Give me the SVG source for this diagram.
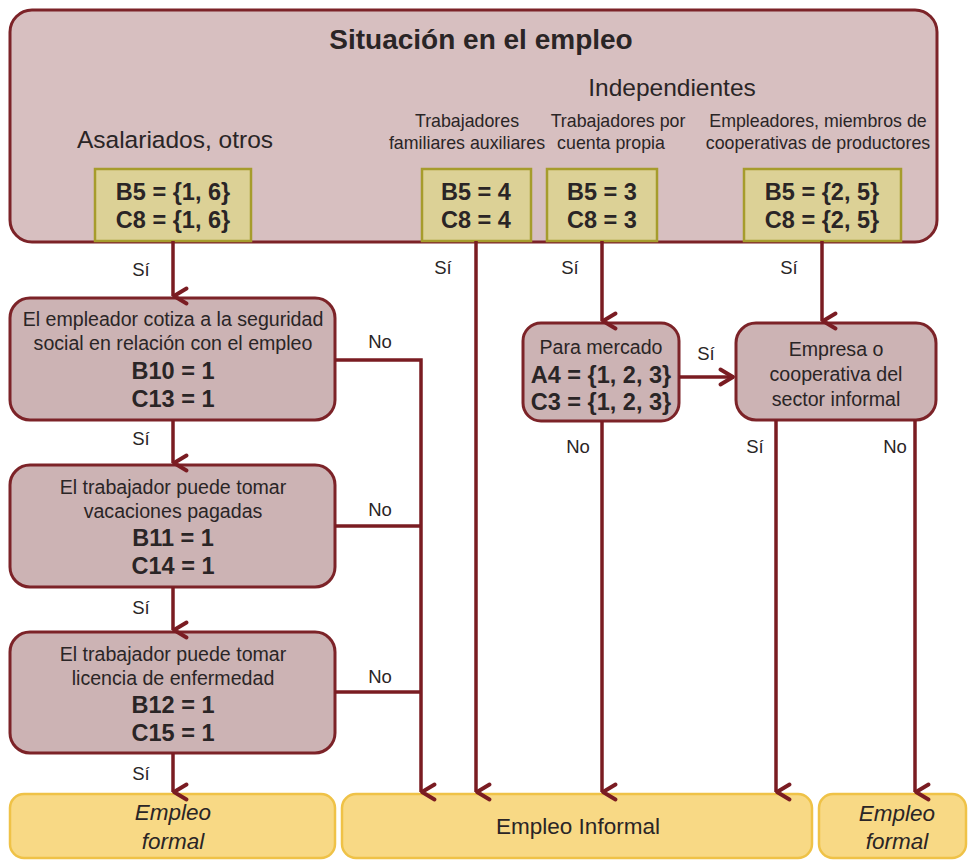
<svg xmlns="http://www.w3.org/2000/svg" width="968" height="862" viewBox="0 0 968 862">
<defs>
<style>
text{font-family:"Liberation Sans",Arial,sans-serif;fill:#2a2526;text-anchor:middle}
.title{font-size:28px;font-weight:bold}
.cat{font-size:24.5px}
.sub{font-size:17.8px}
.eq{font-size:23.5px;font-weight:bold}
.q{font-size:19.6px}
.lbl{font-size:18.5px}
.end{font-size:22.5px}
.it{font-style:italic}
.outer{fill:#d7bfc0;stroke:#7c2328;stroke-width:3}
.code{fill:#dcd196;stroke:#a69c2c;stroke-width:2.5}
.dec{fill:#ccb3b4;stroke:#7c2328;stroke-width:3}
.res{fill:#f8d985;stroke:#efc247;stroke-width:2.5}
.c{fill:none;stroke:#7a1c22;stroke-width:3.5}
</style>
<marker id="ah" viewBox="0 0 20 18" refX="10" refY="16.5" markerWidth="20" markerHeight="18" markerUnits="userSpaceOnUse" orient="auto">
<path d="M2.5,3 L10,15.5 L17.5,3" fill="none" stroke="#7a1c22" stroke-width="3.8" stroke-linecap="round" stroke-linejoin="round"/>
</marker>
<marker id="ahr" viewBox="0 0 18 20" refX="16.5" refY="10" markerWidth="18" markerHeight="20" markerUnits="userSpaceOnUse">
<path d="M3,2.5 L15.5,10 L3,17.5" fill="none" stroke="#7a1c22" stroke-width="3.8" stroke-linecap="round" stroke-linejoin="round"/>
</marker>
</defs>
<rect width="968" height="862" fill="#ffffff"/>

<g id="situacion">
<rect class="outer" x="10" y="10" width="927" height="232" rx="22"/>
<text class="title" x="481" y="49">Situación en el empleo</text>
<text class="cat" x="175" y="148">Asalariados, otros</text>
<text class="cat" x="672" y="96">Independientes</text>
<text class="sub" x="467" y="127">Trabajadores</text>
<text class="sub" x="467" y="149">familiares auxiliares</text>
<text class="sub" x="618" y="127">Trabajadores por</text>
<text class="sub" x="611" y="149">cuenta propia</text>
<text class="sub" x="818" y="127">Empleadores, miembros de</text>
<text class="sub" x="818" y="149">cooperativas de productores</text>
</g>

<g id="cod-asalariados">
<rect class="code" x="95" y="169" width="156" height="72"/>
<text class="eq" x="173" y="200">B5 = {1, 6}</text>
<text class="eq" x="173" y="228">C8 = {1, 6}</text>
</g>
<g id="cod-familiares">
<rect class="code" x="422" y="169" width="109" height="72"/>
<text class="eq" x="476" y="200">B5 = 4</text>
<text class="eq" x="476" y="228">C8 = 4</text>
</g>
<g id="cod-cuentapropia">
<rect class="code" x="547" y="169" width="110" height="72"/>
<text class="eq" x="602" y="200">B5 = 3</text>
<text class="eq" x="602" y="228">C8 = 3</text>
</g>
<g id="cod-empleadores">
<rect class="code" x="744" y="169" width="157" height="72"/>
<text class="eq" x="822" y="200">B5 = {2, 5}</text>
<text class="eq" x="822" y="228">C8 = {2, 5}</text>
</g>

<g id="seguridad-social">
<rect class="dec" x="10" y="298" width="325" height="122" rx="20"/>
<text class="q" x="173" y="326">El empleador cotiza a la seguridad</text>
<text class="q" x="173" y="350">social en relación con el empleo</text>
<text class="eq" x="173" y="379">B10 = 1</text>
<text class="eq" x="173" y="407">C13 = 1</text>
</g>
<g id="vacaciones">
<rect class="dec" x="10" y="465" width="325" height="122" rx="20"/>
<text class="q" x="173" y="494">El trabajador puede tomar</text>
<text class="q" x="173" y="518">vacaciones pagadas</text>
<text class="eq" x="173" y="546">B11 = 1</text>
<text class="eq" x="173" y="574">C14 = 1</text>
</g>
<g id="licencia">
<rect class="dec" x="10" y="632" width="325" height="121" rx="20"/>
<text class="q" x="173" y="661">El trabajador puede tomar</text>
<text class="q" x="173" y="685">licencia de enfermedad</text>
<text class="eq" x="173" y="713">B12 = 1</text>
<text class="eq" x="173" y="741">C15 = 1</text>
</g>
<g id="para-mercado">
<rect class="dec" x="523" y="323" width="156" height="98" rx="18"/>
<text class="q" x="601" y="354">Para mercado</text>
<text class="eq" x="601" y="383">A4 = {1, 2, 3}</text>
<text class="eq" x="601" y="410">C3 = {1, 2, 3}</text>
</g>
<g id="empresa-informal">
<rect class="dec" x="736" y="323" width="200" height="97" rx="20"/>
<text class="q" x="836" y="356">Empresa o</text>
<text class="q" x="836" y="381">cooperativa del</text>
<text class="q" x="836" y="406">sector informal</text>
</g>

<g id="formal-1">
<rect class="res" x="10" y="794" width="325" height="64" rx="14"/>
<text class="end it" x="173" y="820">Empleo</text>
<text class="end it" x="173" y="849">formal</text>
</g>
<g id="informal">
<rect class="res" x="342" y="794" width="470" height="64" rx="14"/>
<text class="end" x="578" y="834">Empleo Informal</text>
</g>
<g id="formal-2">
<rect class="res" x="819" y="794" width="147" height="64" rx="14"/>
<text class="end it" x="897" y="821">Empleo</text>
<text class="end it" x="897" y="849">formal</text>
</g>

<g id="connectors">
<line class="c" x1="173" y1="241" x2="173" y2="296" marker-end="url(#ah)"/>
<line class="c" x1="173" y1="420" x2="173" y2="463" marker-end="url(#ah)"/>
<line class="c" x1="173" y1="587" x2="173" y2="630" marker-end="url(#ah)"/>
<line class="c" x1="173" y1="753" x2="173" y2="792" marker-end="url(#ah)"/>
<polyline class="c" points="335,360 421,360 421,792" marker-end="url(#ah)"/>
<line class="c" x1="335" y1="526" x2="421" y2="526"/>
<line class="c" x1="335" y1="692" x2="421" y2="692"/>
<line class="c" x1="476" y1="241" x2="476" y2="792" marker-end="url(#ah)"/>
<line class="c" x1="602" y1="241" x2="602" y2="321" marker-end="url(#ah)"/>
<line class="c" x1="822" y1="241" x2="822" y2="321" marker-end="url(#ah)"/>
<line class="c" x1="679" y1="377" x2="734" y2="377" marker-end="url(#ahr)"/>
<line class="c" x1="602" y1="421" x2="602" y2="792" marker-end="url(#ah)"/>
<line class="c" x1="776" y1="420" x2="776" y2="792" marker-end="url(#ah)"/>
<line class="c" x1="915" y1="420" x2="915" y2="792" marker-end="url(#ah)"/>
<text class="lbl" x="141" y="276">Sí</text>
<text class="lbl" x="141" y="445">Sí</text>
<text class="lbl" x="141" y="614">Sí</text>
<text class="lbl" x="141" y="780">Sí</text>
<text class="lbl" x="380" y="348">No</text>
<text class="lbl" x="380" y="516">No</text>
<text class="lbl" x="380" y="683">No</text>
<text class="lbl" x="443" y="274">Sí</text>
<text class="lbl" x="570" y="274">Sí</text>
<text class="lbl" x="789" y="274">Sí</text>
<text class="lbl" x="706" y="360">Sí</text>
<text class="lbl" x="578" y="453">No</text>
<text class="lbl" x="755" y="453">Sí</text>
<text class="lbl" x="895" y="453">No</text>
</g>
</svg>
